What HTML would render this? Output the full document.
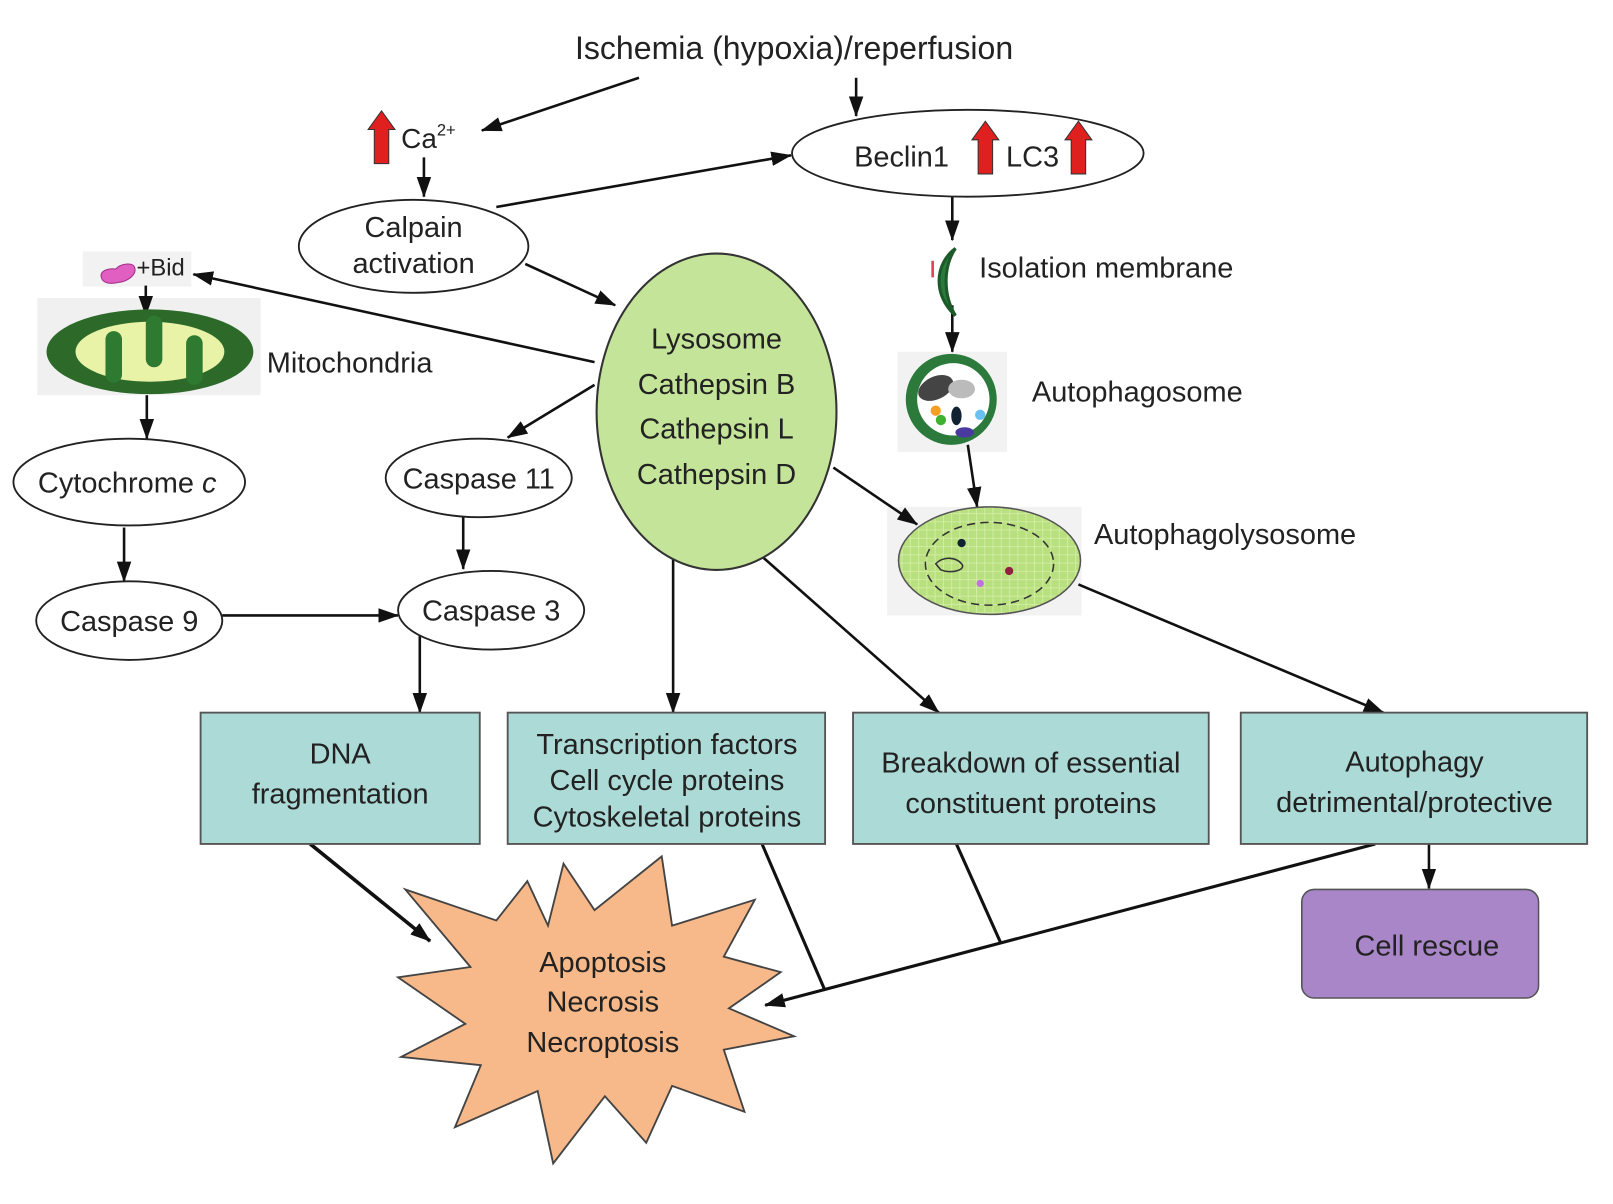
<!DOCTYPE html>
<html><head><meta charset="utf-8"><style>
html,body{margin:0;padding:0;background:#fff;}
svg{display:block;}
text{font-family:"Liberation Sans","DejaVu Sans",sans-serif;fill:#222;}
</style></head><body>
<svg width="1613" height="1204" viewBox="0 0 1560 1164" xmlns="http://www.w3.org/2000/svg">
<defs>
<marker id="a2" viewBox="0 0 20 14" refX="19" refY="7" markerWidth="20" markerHeight="14" orient="auto" markerUnits="userSpaceOnUse">
<path d="M0,0 L20,7 L0,14 z" fill="#111"/>
</marker>
<pattern id="grid" width="8" height="8" patternUnits="userSpaceOnUse">
<rect width="8" height="8" fill="#b9e07e"/><path d="M0 0H8M0 0V8" stroke="#d6efae" stroke-width="1.5"/>
</pattern>
</defs>

<!-- backgrounds first -->
<rect x="80" y="243" width="105" height="34" fill="#f2f2f2"/>
<rect x="36" y="288" width="216" height="94" fill="#f0f0f0"/>
<rect x="868" y="340" width="106" height="97" fill="#f2f2f2"/>
<rect x="858" y="490" width="188" height="105" fill="#f2f2f2"/>

<text x="768" y="57" font-size="31" text-anchor="middle">Ischemia (hypoxia)/reperfusion</text>

<g stroke="#111" stroke-width="2.5" fill="none">
<line x1="618" y1="75" x2="466" y2="126" marker-end="url(#a2)"/>
<line x1="828" y1="75" x2="828" y2="112" marker-end="url(#a2)"/>
<line x1="410" y1="152" x2="410" y2="190" marker-end="url(#a2)"/>
<line x1="480" y1="200" x2="765" y2="150" marker-end="url(#a2)"/>
<line x1="508" y1="255" x2="595" y2="295" marker-end="url(#a2)"/>
<line x1="575" y1="350" x2="187" y2="265" marker-end="url(#a2)"/>
<line x1="141" y1="276" x2="141" y2="305" marker-end="url(#a2)"/>
<line x1="142" y1="382" x2="142" y2="424" marker-end="url(#a2)"/>
<line x1="120" y1="510" x2="120" y2="562" marker-end="url(#a2)"/>
<line x1="215" y1="595" x2="385" y2="595" marker-end="url(#a2)"/>
<line x1="575" y1="372" x2="491" y2="423" marker-end="url(#a2)"/>
<line x1="448" y1="500" x2="448" y2="550" marker-end="url(#a2)"/>
<line x1="406" y1="615" x2="406" y2="689" marker-end="url(#a2)"/>
<line x1="921" y1="190" x2="921" y2="232" marker-end="url(#a2)"/>
<line x1="921" y1="295" x2="921" y2="340" marker-end="url(#a2)"/>
<line x1="936" y1="430" x2="945" y2="490" marker-end="url(#a2)"/>
<line x1="806" y1="452" x2="887" y2="507" marker-end="url(#a2)"/>
<line x1="1043" y1="565" x2="1338" y2="689" marker-end="url(#a2)"/>
<line x1="651" y1="540" x2="651" y2="689" marker-end="url(#a2)"/>
<line x1="737" y1="538" x2="908" y2="689" marker-end="url(#a2)"/>
<line x1="1382" y1="816" x2="1382" y2="859" marker-end="url(#a2)"/>
<line stroke-width="3.5" x1="300" y1="816" x2="416" y2="910" marker-end="url(#a2)"/>
<line stroke-width="3" x1="737" y1="816" x2="798" y2="958"/>
<line stroke-width="3" x1="925" y1="816" x2="968" y2="912"/>
<line stroke-width="3" x1="1330" y1="816" x2="740" y2="972" marker-end="url(#a2)"/>
</g>

<path d="M362 158V125H356L369 107L382 125H376V158Z" fill="#e0201e" stroke="#333" stroke-width="1"/>
<text x="388" y="143" font-size="27">Ca<tspan font-size="16" dy="-12">2+</tspan></text>

<ellipse cx="936" cy="148" rx="170" ry="42" fill="#fff" stroke="#222" stroke-width="1.8"/>
<text x="826" y="161" font-size="28">Beclin1</text>
<path d="M946 168V135H940L953 117L966 135H960V168Z" fill="#e0201e" stroke="#333" stroke-width="1"/>
<text x="973" y="161" font-size="28">LC3</text>
<path d="M1036 168V135H1030L1043 117L1056 135H1050V168Z" fill="#e0201e" stroke="#333" stroke-width="1"/>

<ellipse cx="400" cy="238" rx="111" ry="45" fill="#fff" stroke="#222" stroke-width="1.8"/>
<text x="400" y="229" font-size="28" text-anchor="middle">Calpain</text>
<text x="400" y="264" font-size="28" text-anchor="middle">activation</text>

<ellipse cx="693" cy="398" rx="116" ry="153" fill="#c4e49a" stroke="#333" stroke-width="2"/>
<text x="693" y="337" font-size="28" text-anchor="middle">Lysosome</text>
<text x="693" y="381" font-size="28" text-anchor="middle">Cathepsin B</text>
<text x="693" y="424" font-size="28" text-anchor="middle">Cathepsin L</text>
<text x="693" y="468" font-size="28" text-anchor="middle">Cathepsin D</text>

<path d="M98 268C96 261 106 259 112 260C116 255 128 253 130 258C133 265 124 272 114 273C105 275 99 273 98 268Z" fill="#e05fc0" stroke="#a0308a" stroke-width="1"/>
<text x="132" y="266" font-size="23">+Bid</text>
<g>
<ellipse cx="145" cy="340" rx="100" ry="41" fill="#2d6a2a"/>
<ellipse cx="145" cy="340" rx="72" ry="29" fill="#e9f3a8"/>
<rect x="102" y="320" width="16" height="50" rx="8" fill="#2d7a30"/>
<rect x="141" y="305" width="16" height="50" rx="8" fill="#2d7a30"/>
<rect x="180" y="324" width="16" height="48" rx="8" fill="#2d7a30"/>
</g>
<text x="258" y="360" font-size="28">Mitochondria</text>

<ellipse cx="125" cy="466" rx="112" ry="42" fill="#fff" stroke="#222" stroke-width="1.8"/>
<text x="123" y="476" font-size="28" text-anchor="middle">Cytochrome <tspan font-style="italic">c</tspan></text>
<ellipse cx="125" cy="600" rx="90" ry="38" fill="#fff" stroke="#222" stroke-width="1.8"/>
<text x="125" y="610" font-size="28" text-anchor="middle">Caspase 9</text>
<ellipse cx="463" cy="462" rx="90" ry="38" fill="#fff" stroke="#222" stroke-width="1.8"/>
<text x="463" y="472" font-size="28" text-anchor="middle">Caspase 11</text>
<ellipse cx="475" cy="590" rx="90" ry="38" fill="#fff" stroke="#222" stroke-width="1.8"/>
<text x="475" y="600" font-size="28" text-anchor="middle">Caspase 3</text>

<path d="M924 240C904 255 902 285 924 305C912 285 912 258 924 240Z" fill="#2b7a3c" stroke="#1d5a2a" stroke-width="3"/>
<line x1="902" y1="252" x2="902" y2="268" stroke="#e04050" stroke-width="2.5"/>
<text x="947" y="268" font-size="28">Isolation membrane</text>

<g>
<circle cx="920" cy="386" r="44" fill="#2b7a3c"/>
<circle cx="922" cy="386" r="35" fill="#fff"/>
<ellipse cx="905" cy="375" rx="18" ry="11" fill="#444" transform="rotate(-25 905 375)"/>
<ellipse cx="930" cy="376" rx="13" ry="9" fill="#bbb"/>
<circle cx="905" cy="397" r="5" fill="#f5a020"/>
<circle cx="910" cy="406" r="5" fill="#40b030"/>
<ellipse cx="925" cy="402" rx="5" ry="9" fill="#123"/>
<circle cx="948" cy="401" r="5" fill="#6ac0f0"/>
<ellipse cx="933" cy="418" rx="9" ry="5" fill="#4a3aa0"/>
</g>
<text x="998" y="388" font-size="28">Autophagosome</text>

<g>
<ellipse cx="957" cy="542" rx="88" ry="52" fill="url(#grid)" stroke="#555" stroke-width="1.5"/>
<ellipse cx="957" cy="545" rx="62" ry="40" fill="none" stroke="#333" stroke-width="1.5" stroke-dasharray="8 5"/>
<circle cx="930" cy="525" r="4" fill="#123"/>
<circle cx="976" cy="552" r="4" fill="#902040"/>
<circle cx="948" cy="564" r="3.5" fill="#c070e0"/>
<path d="M905 545c8-8 20-6 25 0s-10 10-20 6z" fill="none" stroke="#333" stroke-width="1.5"/>
</g>
<text x="1058" y="526" font-size="28">Autophagolysosome</text>

<g stroke="#555" stroke-width="1.8" fill="#acdad7">
<rect x="194" y="689" width="270" height="127"/>
<rect x="491" y="689" width="307" height="127"/>
<rect x="825" y="689" width="344" height="127"/>
<rect x="1200" y="689" width="335" height="127"/>
</g>
<text x="329" y="738" font-size="28" text-anchor="middle">DNA</text>
<text x="329" y="777" font-size="28" text-anchor="middle">fragmentation</text>
<text x="645" y="729" font-size="28" text-anchor="middle">Transcription factors</text>
<text x="645" y="764" font-size="28" text-anchor="middle">Cell cycle proteins</text>
<text x="645" y="799" font-size="28" text-anchor="middle">Cytoskeletal proteins</text>
<text x="997" y="747" font-size="28" text-anchor="middle">Breakdown of essential</text>
<text x="997" y="786" font-size="28" text-anchor="middle">constituent proteins</text>
<text x="1368" y="746" font-size="28" text-anchor="middle">Autophagy</text>
<text x="1368" y="785" font-size="28" text-anchor="middle">detrimental/protective</text>

<rect x="1259" y="860" width="229" height="105" rx="12" fill="#a886c8" stroke="#555" stroke-width="1.5"/>
<text x="1380" y="924" font-size="28" text-anchor="middle">Cell rescue</text>

<polygon fill="#f7b98a" stroke="#444" stroke-width="1.8"
points="575,880 640,828 650,895 730,870 700,925 755,940 705,975 768,1002 700,1015 720,1075 650,1050 625,1105 585,1060 535,1125 520,1055 440,1090 465,1030 388,1022 450,990 385,945 455,935 392,860 480,890 510,852 530,895 545,835"/>
<text x="583" y="940" font-size="28" text-anchor="middle">Apoptosis</text>
<text x="583" y="978" font-size="28" text-anchor="middle">Necrosis</text>
<text x="583" y="1017" font-size="28" text-anchor="middle">Necroptosis</text>
</svg>
</body></html>
